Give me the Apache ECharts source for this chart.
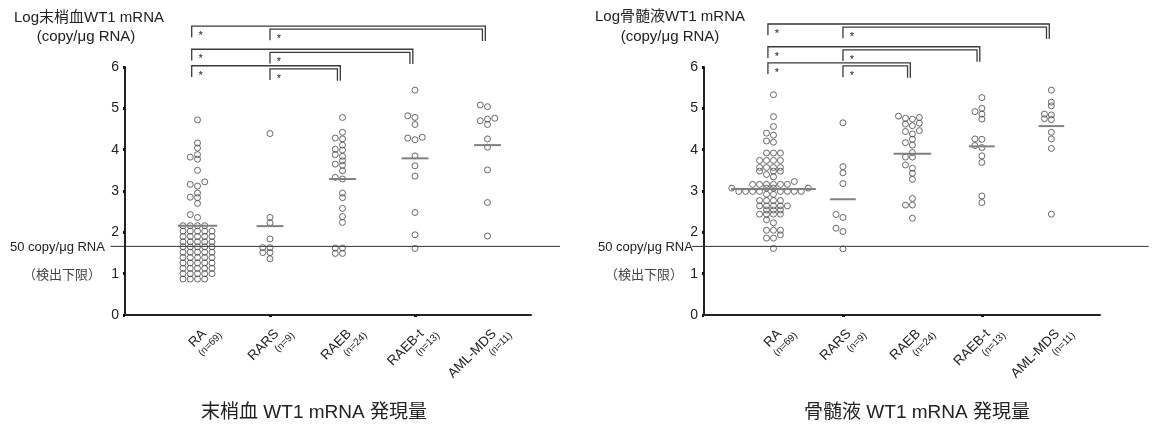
<!DOCTYPE html>
<html><head><meta charset="utf-8">
<script src="https://cdn.jsdelivr.net/npm/echarts@6/dist/echarts.min.js"></script>
<style>html,body{margin:0;padding:0;background:#fff}#c{width:1160px;height:429px}</style>
</head><body><div id="c"></div>
<script>
// ---------- data ----------
const categories = ['RA', 'RARS', 'RAEB', 'RAEB-t', 'AML-MDS'];
const counts = [69, 9, 24, 13, 11];
const yTicks = [0, 1, 2, 3, 4, 5, 6];
const detectionLimit = 1.66; // 50 copy/μg RNA (log)

// peripheral blood (末梢血)
const pbRA = [0.87, 0.87, 0.87, 0.87,
  1.00, 1.00, 1.00, 1.00, 1.00, 1.13, 1.13, 1.13, 1.13, 1.13,
  1.26, 1.26, 1.26, 1.26, 1.26, 1.39, 1.39, 1.39, 1.39, 1.39,
  1.52, 1.52, 1.52, 1.52, 1.52, 1.65, 1.65, 1.65, 1.65, 1.65,
  1.77, 1.77, 1.77, 1.77, 1.77, 1.90, 1.90, 1.90, 1.90, 1.90,
  2.03, 2.03, 2.03, 2.03, 2.03, 2.16, 2.16, 2.16, 2.16,
  2.36, 2.43, 2.70, 2.84, 2.85, 2.95, 3.12, 3.16, 3.22, 3.50,
  3.77, 3.82, 3.88, 4.04, 4.16, 4.72];
const pbRARS = [4.39, 2.36, 2.23, 1.84, 1.63, 1.63, 1.51, 1.51, 1.36];
const pbRAEB = [4.78, 4.42, 4.28, 4.26, 4.11, 4.01, 3.99, 3.88, 3.84, 3.73, 3.65, 3.62,
  3.49, 3.33, 3.29, 2.95, 2.84, 2.58, 2.38, 2.24, 1.62, 1.62, 1.49, 1.49];
const pbRAEBt = [5.44, 4.82, 4.78, 4.61, 4.30, 4.28, 4.24, 3.85, 3.61, 3.36, 2.48, 1.94, 1.61];
const pbAML = [5.08, 5.04, 4.76, 4.74, 4.70, 4.61, 4.26, 4.06, 3.51, 2.72, 1.91];
const pbMeans = [2.16, 2.15, 3.29, 3.79, 4.11];

// bone marrow (骨髄液)
const bmRA = [5.33, 4.80, 4.56, 4.40, 4.35, 4.21, 4.18,
  3.92, 3.92, 3.92, 3.74, 3.74, 3.74, 3.74, 3.57, 3.57, 3.57, 3.57,
  3.48, 3.48, 3.48, 3.40, 3.34, 3.23,
  3.16, 3.16, 3.16, 3.16, 3.16, 3.16, 3.07, 3.07, 3.07, 3.07,
  2.99, 2.99, 2.99, 2.99, 2.99, 2.99, 2.99, 2.99, 2.92, 2.92,
  2.77, 2.77, 2.77, 2.77, 2.64, 2.64, 2.64, 2.64, 2.64,
  2.54, 2.54, 2.54, 2.44, 2.44, 2.44, 2.44,
  2.30, 2.23, 2.05, 2.05, 2.05, 1.94, 1.86, 1.86, 1.61];
const bmRARS = [4.65, 3.59, 3.44, 3.18, 2.43, 2.36, 2.10, 2.02, 1.60];
const bmRAEB = [4.81, 4.78, 4.76, 4.74, 4.64, 4.62, 4.58, 4.46, 4.44, 4.38, 4.25, 4.17,
  4.11, 3.93, 3.82, 3.82, 3.63, 3.55, 3.43, 3.28, 2.82, 2.66, 2.66, 2.34];
const bmRAEBt = [5.26, 5.00, 4.92, 4.86, 4.74, 4.26, 4.25, 4.10, 4.05, 3.85, 3.69, 2.88, 2.72];
const bmAML = [5.44, 5.15, 5.06, 4.86, 4.84, 4.75, 4.73, 4.42, 4.26, 4.03, 2.44];
const bmMeans = [3.05, 2.80, 3.90, 4.08, 4.57];

// significance (*) comparisons
const sigPairs = [['RA', 'RAEB'], ['RARS', 'RAEB'], ['RA', 'RAEB-t'], ['RARS', 'RAEB-t'],
  ['RA', 'AML-MDS'], ['RARS', 'AML-MDS']];

const titles = ['末梢血 WT1 mRNA 発現量', '骨髄液 WT1 mRNA 発現量'];
const yNames = ['Log末梢血WT1 mRNA', 'Log骨髄液WT1 mRNA'];
const yUnit = '(copy/μg RNA)';
const limitText = '50 copy/μg RNA';
const limitNote = '（検出下限）';

// ---------- layout helpers ----------
const LATIN = 'Liberation Sans, Arial, Noto Sans CJK JP, sans-serif';
const CJK = 'Liberation Sans, Noto Sans CJK JP, sans-serif';
const STEP = 0.1, LABEL_SHIFT = 0.25;

function swarm(values, center, gap) {
  const sorted = values.slice().sort((a, b) => a - b);
  const placed = [];
  const order = [0, -1, 1, -2, 2, -3, 3, -4, 4, -5, 5, -6, 6, -7, 7, -8, 8];
  let maxSlot = 0;
  const pts = sorted.map(v => {
    for (const s of order) {
      if (!placed.some(p => p.s === s && Math.abs(p.v - v) < gap - 1e-9)) {
        placed.push({ s, v });
        maxSlot = Math.max(maxSlot, Math.abs(s));
        return [center + s * STEP, v];
      }
    }
  });
  return { pts, maxSlot };
}

function buildChart(gi, groups, means, levels, lineRange, gap) {
  const pts = [], meanData = [];
  groups.forEach((vals, k) => {
    const r = swarm(vals, k + 1, gap);
    pts.push(...r.pts);
    meanData.push([k + 1, means[k], Math.max(0.18, r.maxSlot * STEP * 0.85 + 0.1)]);
  });
  const brackets = sigPairs.map(([a, b]) => {
    const ia = categories.indexOf(a) + 1, ib = categories.indexOf(b) + 1;
    const lvl = ib - 3;
    const inner = ia !== 1;
    const top = levels[lvl] - (inner ? 0.075 : 0);
    const x1 = ia + (inner ? 0 : -0.08);
    const x2 = ib + (inner ? -0.07 : -0.03);
    return [x1, x2, top, top - 0.27, levels[lvl] - 0.36];
  });
  return [
    {
      type: 'custom', xAxisIndex: gi, yAxisIndex: gi, clip: false, silent: true, z: 1,
      data: [[lineRange[0], lineRange[1], detectionLimit]],
      renderItem: (p, api) => {
        const a = api.coord([api.value(0), api.value(2)]);
        const b = api.coord([api.value(1), api.value(2)]);
        return { type: 'line', shape: { x1: a[0], y1: a[1], x2: b[0], y2: b[1] },
          style: { stroke: '#333', lineWidth: 1 } };
      }
    },
    {
      type: 'scatter', xAxisIndex: gi, yAxisIndex: gi, data: pts, symbol: 'circle', symbolSize: 6,
      itemStyle: { color: 'rgba(255,255,255,0)', borderColor: '#444', borderWidth: 1 }, z: 2
    },
    {
      type: 'custom', xAxisIndex: gi, yAxisIndex: gi, data: meanData, clip: false, z: 3,
      renderItem: (p, api) => {
        const a = api.coord([api.value(0) - api.value(2), api.value(1)]);
        const b = api.coord([api.value(0) + api.value(2), api.value(1)]);
        return { type: 'line', shape: { x1: a[0], y1: a[1], x2: b[0], y2: b[1] },
          style: { stroke: '#808080', lineWidth: 2 } };
      }
    },
    {
      type: 'custom', xAxisIndex: gi, yAxisIndex: gi, data: brackets, clip: false, z: 4,
      renderItem: (p, api) => {
        const x1 = api.value(0), x2 = api.value(1), yt = api.value(2), yl = api.value(3), yr = api.value(4);
        const p1 = api.coord([x1, yl]), p2 = api.coord([x1, yt]), p3 = api.coord([x2, yt]), p4 = api.coord([x2, yr]);
        return { type: 'group', children: [
          { type: 'polyline', shape: { points: [p1, p2, p3, p4] }, style: { stroke: '#3a3a3a', lineWidth: 1.3, fill: null } },
          { type: 'text', x: p2[0] + 9, y: p2[1] + 10,
            style: { text: '*', fill: '#222', fontSize: 11, fontFamily: LATIN, align: 'center', verticalAlign: 'middle' } }
        ] };
      }
    }
  ];
}

function xAxis(gi, max) {
  return {
    type: 'value', gridIndex: gi, min: 0, max: max,
    axisLine: { show: true, onZero: false, lineStyle: { color: '#222', width: 2 } },
    axisTick: { show: true, customValues: [2, 4], length: 2, lineStyle: { color: '#111', width: 3 } },
    axisLabel: {
      show: true, rotate: 45, margin: 14,
      customValues: categories.map((c, k) => k + 1 + LABEL_SHIFT),
      formatter: v => {
        const k = Math.round(v - LABEL_SHIFT) - 1;
        return '{a|' + categories[k] + '}\n{b|(n=' + counts[k] + ')}';
      },
      rich: {
        a: { fontSize: 13.5, fontFamily: LATIN, color: '#222', lineHeight: 14, align: 'right', padding: [0, 10, 0, 0] },
        b: { fontSize: 10, fontFamily: LATIN, color: '#222', lineHeight: 12, align: 'right' }
      }
    },
    splitLine: { show: false }
  };
}
function yAxis(gi) {
  return {
    type: 'value', gridIndex: gi, min: yTicks[0], max: yTicks[yTicks.length - 1], interval: 1,
    axisLine: { show: true, lineStyle: { color: '#222', width: 2 } },
    axisTick: { show: true, length: 2, lineStyle: { color: '#111', width: 3 } },
    axisLabel: { fontSize: 14, fontFamily: LATIN, color: '#222', margin: 6 },
    splitLine: { show: false }
  };
}

function txt(x, y, text, size, align, color, family) {
  return { type: 'text', x: x, y: y, silent: true,
    style: { text: text, fill: color || '#222', fontSize: size, fontFamily: family || LATIN,
      align: align, textAlign: align, verticalAlign: 'middle', textVerticalAlign: 'middle' } };
}

const chart = echarts.init(document.getElementById('c'), null, { renderer: 'canvas' });
chart.setOption({
  animation: false,
  backgroundColor: '#fff',
  grid: [
    { left: 125, top: 67, width: 406, height: 248 },
    { left: 704, top: 67, width: 396, height: 248 }
  ],
  xAxis: [xAxis(0, 5.6), xAxis(1, 5.7)],
  yAxis: [yAxis(0), yAxis(1)],
  series: [
    ...buildChart(0, [pbRA, pbRARS, pbRAEB, pbRAEBt, pbAML], pbMeans, [6.03, 6.43, 6.99], [-0.2, 6.0], 0.11),
    ...buildChart(1, [bmRA, bmRARS, bmRAEB, bmRAEBt, bmAML], bmMeans, [6.10, 6.49, 7.04], [-0.17, 6.4], 0.085)
  ],
  graphic: [
    txt(89, 18, yNames[0], 15, 'center', '#222', CJK),
    txt(86, 37, yUnit, 15, 'center'),
    txt(670, 17, yNames[1], 15, 'center', '#222', CJK),
    txt(670, 37, yUnit, 15, 'center'),
    txt(10, 247, limitText, 13, 'left'),
    txt(598, 247, limitText, 13, 'left'),
    txt(101, 274, limitNote, 13, 'right', '#444', 'Noto Sans CJK JP'),
    txt(683, 274, limitNote, 13, 'right', '#444', 'Noto Sans CJK JP'),
    txt(314, 413, titles[0], 19, 'center', '#222', CJK),
    txt(917, 413, titles[1], 19, 'center', '#222', CJK)
  ]
});
</script>
</body></html>
